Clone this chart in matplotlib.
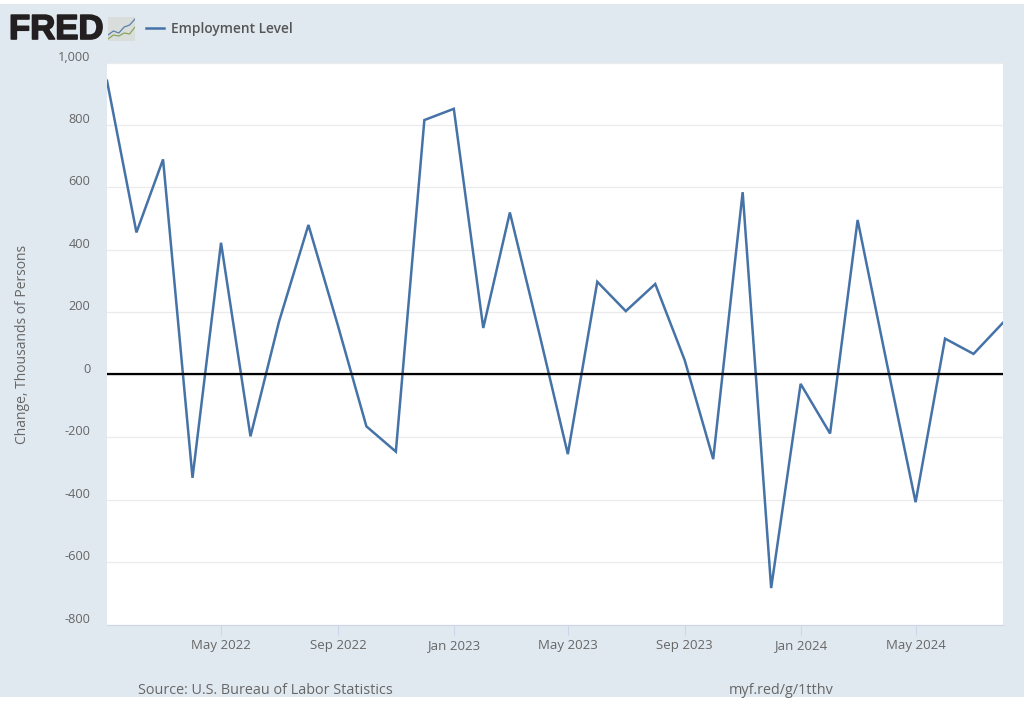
import matplotlib
matplotlib.use('Agg')
import matplotlib.pyplot as plt
import matplotlib.dates as mdates
import matplotlib.patheffects as pe
import matplotlib.transforms as mtrans
import pandas as pd
from matplotlib.patches import Rectangle

plt.rcParams['font.family'] = ['Open Sans', 'DejaVu Sans']

dates = pd.date_range('2022-01-01', '2024-08-01', freq='MS')
values = [942, 456, 690, -330, 423, -197, 170, 480, 158, -165, -246, 816,
          852, 150, 520, 132, -254, 298, 204, 291, 47, -270, 585, -683,
          -29, -188, 496, 33, -408, 116, 67, 167]
y_ticks = [-800, -600, -400, -200, 0, 200, 400, 600, 800, 1000]
y_labels = ['-800', '-600', '-400', '-200', '0', '200', '400', '600', '800', '1,000']
x_ticks = ['2022-05-01', '2022-09-01', '2023-01-01', '2023-05-01',
           '2023-09-01', '2024-01-01', '2024-05-01']
series_name = 'Employment Level'
y_title = 'Change, Thousands of Persons'
source = 'Source: U.S. Bureau of Labor Statistics'
short_url = 'myf.red/g/1tthv'

W, H = 1024, 704
BG = '#e1e9f0'
LINE = '#4572a7'
TXT = '#666666'

fig = plt.figure(figsize=(W / 100, H / 100), dpi=100, facecolor='white')
fig.add_artist(Rectangle((0, 7 / H), 1, 693 / H, transform=fig.transFigure,
                         facecolor=BG, edgecolor='none', zorder=-5))

ax = fig.add_axes([107 / W, 1 - 624.6 / H, 896 / W, 562 / H])
ax.set_facecolor('white')
ax.plot(dates, values, color=LINE, lw=1.8, solid_joinstyle='miter', zorder=3)
# the black zero line sits a pixel above the grid position in the original
up_1px = mtrans.ScaledTranslation(0, 1 / 100, fig.dpi_scale_trans)
ax.plot([0, 1], [0, 0], color='black', lw=1.6, zorder=4,
        transform=ax.get_yaxis_transform() + up_1px)

ax.set_xlim(pd.Timestamp('2022-01-01'), pd.Timestamp('2024-08-01'))
ax.set_ylim(-800, 1000)
ax.set_yticks(y_ticks)
ax.set_yticklabels(y_labels)
ax.set_xticks(pd.to_datetime(x_ticks))
ax.xaxis.set_major_formatter(mdates.DateFormatter('%b %Y'))
ax.grid(axis='y', color='#ebebeb', lw=0.9, zorder=0)
ax.set_axisbelow(True)
for s in ['top', 'right', 'left']:
    ax.spines[s].set_visible(False)
ax.spines['bottom'].set_color('#ccd6eb')
ax.spines['bottom'].set_linewidth(0.8)

ax.tick_params(axis='y', length=0, pad=12, labelsize=9.2, labelcolor=TXT)
ax.tick_params(axis='x', length=7, width=0.8, color='#ccd6eb', pad=8, labelsize=9.5, labelcolor=TXT)
# FRED puts the y labels just above their gridlines
shift = mtrans.ScaledTranslation(0, 7 / 100, fig.dpi_scale_trans)
for lab in ax.get_yticklabels():
    lab.set_transform(lab.get_transform() + shift)
for lab in ax.get_xticklabels():
    lab.set_verticalalignment('center')

fig.text(22.5 / W, 1 - 344 / H, y_title, rotation=90, ha='center', va='center', fontsize=10, color=TXT)
fig.text(138 / W, 1 - 690 / H, source, ha='left', va='center', fontsize=10.4, color=TXT)
fig.text(729 / W, 1 - 690 / H, short_url, ha='left', va='center', fontsize=10.4, color=TXT)

# header: logo + legend
fig.text(9 / W, 1 - 29.5 / H, 'FRED', ha='left', va='center', fontsize=25, fontweight='bold',
         family=['Liberation Sans', 'DejaVu Sans'], color='#231f20',
         path_effects=[pe.withStroke(linewidth=1.2, foreground='#231f20')])
icon = fig.add_axes([108 / W, 1 - 41 / H, 27 / W, 24 / H])
icon.set_facecolor('#d9dedd')
icon.plot([0, 1, 2, 3, 4, 5], [3, 5, 4, 7, 8, 11], color='#5b7fa8', lw=0.9)
icon.plot([0, 1, 2, 3, 4, 5], [1, 3, 2.5, 4, 3.5, 7], color='#8aa65c', lw=0.9)
icon.set_xlim(0, 5)
icon.set_ylim(0, 12)
icon.set_xticks([])
icon.set_yticks([])
for s in icon.spines.values():
    s.set_visible(False)
fig.add_artist(plt.Line2D([146 / W, 164 / W], [1 - 28 / H] * 2, color=LINE, lw=1.8))
fig.text(171 / W, 1 - 29 / H, series_name, ha='left', va='center', fontsize=9.9,
         fontweight='semibold', color='#555555')

fig.savefig('out.png', dpi=100, facecolor=fig.get_facecolor())
